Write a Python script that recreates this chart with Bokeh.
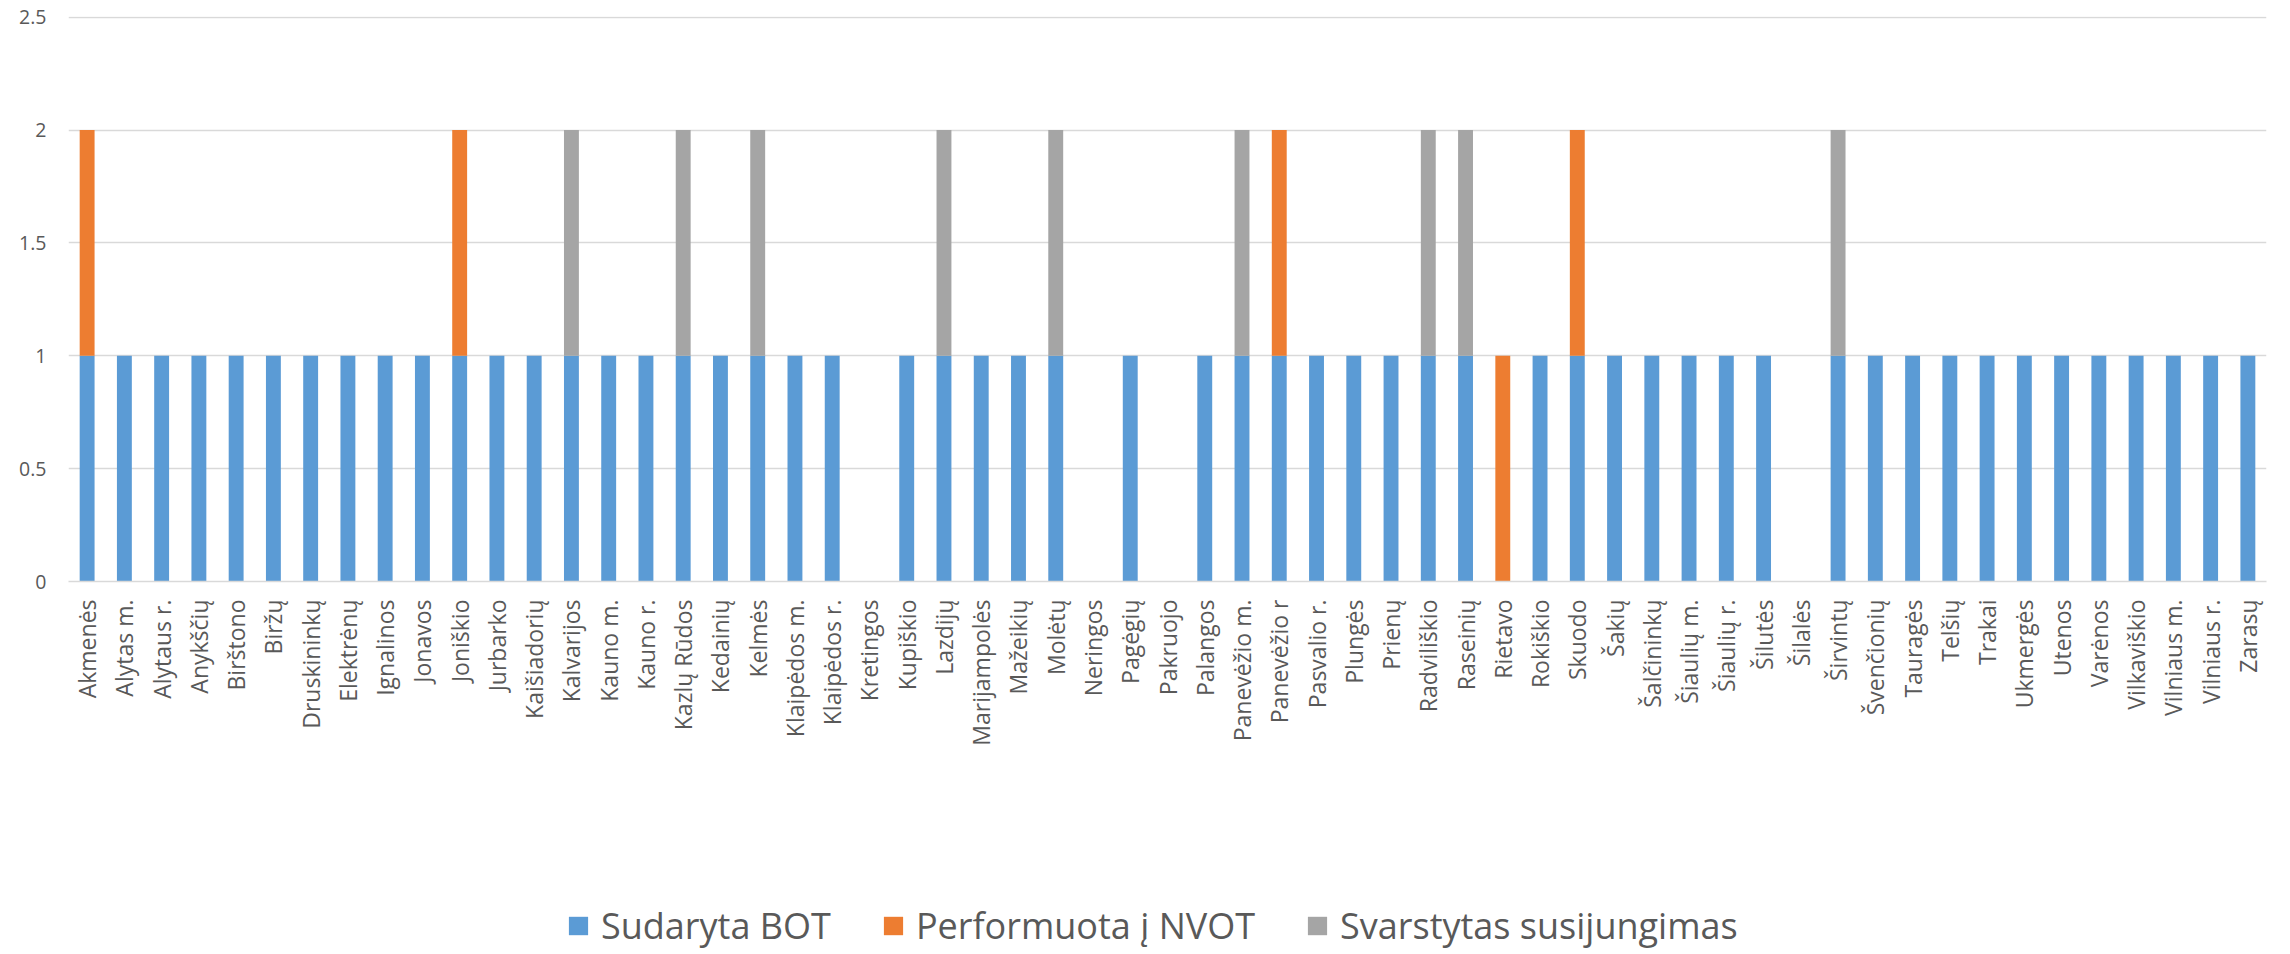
import math
from bokeh.plotting import figure
from bokeh.layouts import column
from bokeh.models import (FactorRange, Range1d, FixedTicker, CustomJSTickFormatter,
                          Legend, LegendItem, ColumnDataSource)
from bokeh.embed import file_html
from bokeh.resources import INLINE

categories = [
    "Akmenės", "Alytas m.", "Alytaus r.", "Anykščių", "Birštono", "Biržų", "Druskininkų",
    "Elektrėnų", "Ignalinos", "Jonavos", "Joniškio", "Jurbarko", "Kaišiadorių", "Kalvarijos",
    "Kauno m.", "Kauno r.", "Kazlų Rūdos", "Kedainių", "Kelmės", "Klaipėdos m.", "Klaipėdos r.",
    "Kretingos", "Kupiškio", "Lazdijų", "Marijampolės", "Mažeikių", "Molėtų", "Neringos",
    "Pagėgių", "Pakruojo", "Palangos", "Panevėžio m.", "Panevėžio r", "Pasvalio r.", "Plungės",
    "Prienų", "Radviliškio", "Raseinių", "Rietavo", "Rokiškio", "Skuodo", "Šakių", "Šalčininkų",
    "Šiaulių m.", "Šiaulių r.", "Šilutės", "Šilalės", "Širvintų", "Švenčionių", "Tauragės",
    "Telšių", "Trakai", "Ukmergės", "Utenos", "Varėnos", "Vilkaviškio", "Vilniaus m.",
    "Vilniaus r.", "Zarasų",
]

sudaryta_bot = [
    1, 1, 1, 1, 1, 1, 1, 1, 1, 1,
    1, 1, 1, 1, 1, 1, 1, 1, 1, 1,
    1, 0, 1, 1, 1, 1, 1, 0, 1, 0,
    1, 1, 1, 1, 1, 1, 1, 1, 0, 1,
    1, 1, 1, 1, 1, 1, 0, 1, 1, 1,
    1, 1, 1, 1, 1, 1, 1, 1, 1,
]
performuota_nvot = [
    1, 0, 0, 0, 0, 0, 0, 0, 0, 0,
    1, 0, 0, 0, 0, 0, 0, 0, 0, 0,
    0, 0, 0, 0, 0, 0, 0, 0, 0, 0,
    0, 0, 1, 0, 0, 0, 0, 0, 1, 0,
    1, 0, 0, 0, 0, 0, 0, 0, 0, 0,
    0, 0, 0, 0, 0, 0, 0, 0, 0,
]
svarstytas_susijungimas = [
    0, 0, 0, 0, 0, 0, 0, 0, 0, 0,
    0, 0, 0, 1, 0, 0, 1, 0, 1, 0,
    0, 0, 0, 1, 0, 0, 1, 0, 0, 0,
    0, 1, 0, 0, 0, 0, 1, 1, 0, 0,
    0, 0, 0, 0, 0, 0, 0, 1, 0, 0,
    0, 0, 0, 0, 0, 0, 0, 0, 0,
]

series_names = ["Sudaryta BOT", "Performuota į NVOT", "Svarstytas susijungimas"]
series_colors = ["#5B9BD5", "#ED7D31", "#A5A5A5"]
y_ticks = [0, 0.5, 1, 1.5, 2, 2.5]

FONT = "Open Sans"
TEXT_COLOR = "#595959"
GRID_COLOR = "#D9D9D9"

source = ColumnDataSource(dict(cat=categories, s1=sudaryta_bot, s2=performuota_nvot,
                               s3=svarstytas_susijungimas))

# ---- main chart ----
p = figure(x_range=FactorRange(*categories), y_range=Range1d(0, 2.503),
           width=2282, height=898,
           min_border_left=68, min_border_right=16, min_border_top=16, min_border_bottom=317,
           output_backend="svg", toolbar_location=None)
p.outline_line_color = None

renderers = p.vbar_stack(["s1", "s2", "s3"], x="cat", width=0.4, source=source,
                         fill_color=series_colors, line_color=None)

p.xgrid.visible = False
p.ygrid.grid_line_color = GRID_COLOR
p.ygrid.grid_line_width = 1.5

p.yaxis.ticker = FixedTicker(ticks=y_ticks)
p.yaxis.formatter = CustomJSTickFormatter(code="return String(tick);")
p.yaxis.axis_line_color = None
p.yaxis.major_tick_line_color = None
p.yaxis.minor_tick_line_color = None
p.yaxis.major_tick_out = 0
p.yaxis.major_label_standoff = 22
p.yaxis.major_label_text_font = FONT
p.yaxis.major_label_text_font_size = "19.5px"
p.yaxis.major_label_text_color = TEXT_COLOR

p.xaxis.axis_line_color = GRID_COLOR
p.xaxis.axis_line_width = 1.5
p.xaxis.major_tick_line_color = None
p.xaxis.major_tick_out = 0
p.xaxis.major_label_standoff = 18
p.xaxis.major_label_orientation = math.pi / 2
p.xaxis.major_label_text_font = FONT
p.xaxis.major_label_text_font_size = "23px"
p.xaxis.major_label_text_color = TEXT_COLOR

# ---- legend strip ----
lg = figure(width=2282, height=52, x_range=Range1d(0, 1), y_range=Range1d(0, 1),
            x_axis_type=None, y_axis_type=None, min_border=0,
            output_backend="svg", toolbar_location=None)
lg.outline_line_color = None
lg.xgrid.visible = False
lg.ygrid.visible = False

# off-range placeholder bars: only their legend swatches are visible
dummy = [lg.vbar(x=[-10], top=[-10], bottom=[-11], width=0.1, fill_color=c, line_color=None)
         for c in series_colors]

legend = Legend(items=[LegendItem(label=n, renderers=[r]) for n, r in zip(series_names, dummy)],
                orientation="horizontal", location=(498, 0),
                glyph_width=24, glyph_height=23, label_standoff=11, spacing=50,
                padding=0, margin=0, border_line_color=None, background_fill_alpha=0,
                label_text_font=FONT, label_text_font_size="36px",
                label_text_color=TEXT_COLOR)
lg.add_layout(legend, "center")

layout = column(p, lg, spacing=0)
open("out.html", "w").write(file_html(layout, INLINE))
